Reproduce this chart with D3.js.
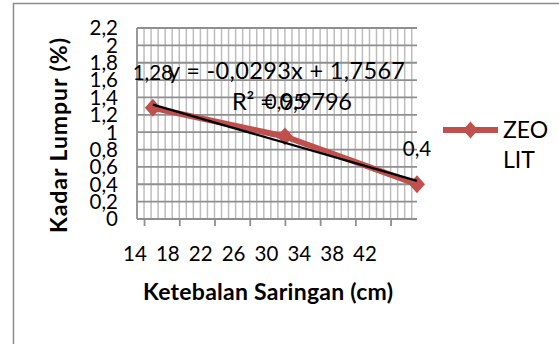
<!DOCTYPE html>
<html><head><meta charset="utf-8">
<script src="https://cdn.jsdelivr.net/npm/d3@7"></script>
<style>html,body{margin:0;padding:0;background:#fff;}svg{display:block;}text{font-family:Lato,"Open Sans",sans-serif;}</style>
</head><body><svg id="c" width="559" height="344"></svg>
<script>
const xValues = [15, 30, 45];
const yValues = [1.28, 0.95, 0.4];
const dataLabels = ["1,28", "0,95", "0,4"];
const seriesName = ["ZEO", "LIT"];
const yTicks = [0, 0.2, 0.4, 0.6, 0.8, 1, 1.2, 1.4, 1.6, 1.8, 2, 2.2];
const yTickLabels = ["0", "0,2", "0,4", "0,6", "0,8", "1", "1,2", "1,4", "1,6", "1,8", "2", "2,2"];
const xTicks = [14, 18, 22, 26, 30, 34, 38, 42];
const trendSlope = -0.0293, trendIntercept = 1.7567;
const equationText = "y = -0,0293x + 1,7567";
const r2Text = "R² = 0,9796";
const xTitle = "Ketebalan Saringan (cm)";
const yTitle = "Kadar Lumpur (%)";

const svg = d3.select("#c");
const fs = 20.5;
const red = "#c0504d";

svg.append("rect").attr("x", 13.5).attr("y", 3.5).attr("width", 600).attr("height", 400)
  .attr("fill", "#fff").attr("stroke", "#8c8c8c").attr("stroke-width", 1.5);

const x = d3.scaleLinear().domain([13.2, 45]).range([137, 417]);
const y = d3.scaleLinear().domain([0, 2.2]).range([219, 28]);
const xLab = d3.scaleLinear().domain([14, 42]).range([135, 365]);

// vertical minor gridlines
const vGrid = d3.range(0, 40).map(k => 13.2 + k * 0.8);
svg.append("g").selectAll("line").data(vGrid.slice(1)).join("line")
  .attr("x1", d => x(d)).attr("x2", d => x(d)).attr("y1", y(2.2)).attr("y2", y(0))
  .attr("stroke", "#bdbdbd").attr("stroke-width", 1.5);
// horizontal gridlines
svg.append("g").selectAll("line").data(yTicks).join("line")
  .attr("x1", x(13.2)).attr("x2", x(45)).attr("y1", d => y(d)).attr("y2", d => y(d))
  .attr("stroke", "#8f8f8f").attr("stroke-width", 1.8);
// y axis line
svg.append("line").attr("x1", x(13.2)).attr("x2", x(13.2)).attr("y1", y(2.2)).attr("y2", y(0))
  .attr("stroke", "#8f8f8f").attr("stroke-width", 1.8);

// x axis ticks
const xAxis = d3.axisBottom(x).tickValues(xTicks).tickSize(7).tickFormat("");
const gx = svg.append("g").attr("transform", `translate(0,${y(0)})`).call(xAxis);
gx.select(".domain").remove();
gx.selectAll("line").attr("stroke", "#8f8f8f").attr("stroke-width", 1.8);

// x tick labels
svg.append("g").selectAll("text").data(xTicks).join("text")
  .attr("x", d => xLab(d)).attr("y", 261).attr("text-anchor", "middle")
  .attr("font-size", fs).attr("fill", "#000").text(d => d);

// y tick labels
svg.append("g").selectAll("text").data(yTicks).join("text")
  .attr("x", 118).attr("y", d => y(d)).attr("dy", "0.36em").attr("text-anchor", "end")
  .attr("font-size", fs).attr("fill", "#000").text((d, i) => yTickLabels[i]);

// series line
const pts = xValues.map((v, i) => [v, yValues[i]]);
svg.append("path").datum(pts)
  .attr("d", d3.line().x(d => x(d[0])).y(d => y(d[1])))
  .attr("fill", "none").attr("stroke", red).attr("stroke-width", 6).attr("stroke-linejoin", "round");

const diamond = (cx, cy, w, h) => `M${cx},${cy - h}L${cx + w},${cy}L${cx},${cy + h}L${cx - w},${cy}Z`;
svg.append("g").selectAll("path").data(pts).join("path")
  .attr("d", d => diamond(x(d[0]), y(d[1]), 8, 9)).attr("fill", red);

// trendline
const tx = [xValues[0], xValues[xValues.length - 1]];
svg.append("line")
  .attr("x1", x(tx[0])).attr("y1", y(trendSlope * tx[0] + trendIntercept))
  .attr("x2", x(tx[1])).attr("y2", y(trendSlope * tx[1] + trendIntercept))
  .attr("stroke", "#000").attr("stroke-width", 2.3);

// data labels
svg.append("g").selectAll("text").data(pts).join("text")
  .attr("x", d => x(d[0])).attr("y", d => y(d[1]) - 28).attr("text-anchor", "middle")
  .attr("font-size", fs).attr("fill", "#000").text((d, i) => dataLabels[i]);

// trendline labels
svg.append("text").attr("x", 168).attr("y", 79)
  .attr("font-size", 23.5).attr("textLength", 237).attr("lengthAdjust", "spacing")
  .attr("fill", "#000").text(equationText);
svg.append("text").attr("x", 232).attr("y", 110)
  .attr("font-size", 23.5).attr("textLength", 120).attr("lengthAdjust", "spacing")
  .attr("fill", "#000").text(r2Text);

// axis titles
svg.append("text").attr("x", 143).attr("y", 300)
  .attr("font-size", 23).attr("font-weight", "bold").attr("textLength", 250).attr("lengthAdjust", "spacing")
  .attr("fill", "#000").text(xTitle);
svg.append("text").attr("transform", "translate(67,233) rotate(-90)")
  .attr("font-size", 23).attr("font-weight", "bold").attr("textLength", 195).attr("lengthAdjust", "spacing")
  .attr("fill", "#000").text(yTitle);

// legend
const lg = svg.append("g");
lg.append("line").attr("x1", 443).attr("x2", 498).attr("y1", 130).attr("y2", 130)
  .attr("stroke", red).attr("stroke-width", 6);
lg.append("path").attr("d", diamond(470.5, 130, 7.5, 8.5)).attr("fill", red);
lg.selectAll("text").data(seriesName).join("text")
  .attr("x", 503).attr("y", (d, i) => 138 + i * 30)
  .attr("font-size", 23).attr("fill", "#000").text(d => d);
</script>
</body></html>
